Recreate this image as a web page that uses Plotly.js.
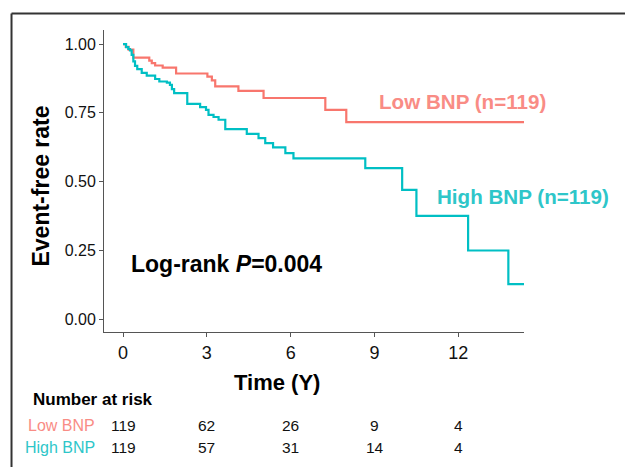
<!DOCTYPE html>
<html>
<head>
<meta charset="utf-8">
<script src="https://cdn.plot.ly/plotly-3.0.1.min.js"></script>
<style>html,body{margin:0;padding:0;background:#fff;}#chart{width:625px;height:467px;}</style>
</head>
<body>
<div id="chart"></div>
<script>
// Kaplan-Meier steps
const lowTime  = [0, 0.10, 0.20, 0.37, 0.94, 1.03, 1.15, 1.42, 1.90, 3.02, 3.18, 3.30, 4.13, 5.03, 7.24, 7.99, 14.35];
const lowSurv  = [1.00, 0.99, 0.98, 0.951, 0.940, 0.931, 0.922, 0.914, 0.893, 0.882, 0.868, 0.846, 0.830, 0.804, 0.761, 0.716, 0.716];
const highTime = [0, 0.11, 0.19, 0.25, 0.31, 0.37, 0.43, 0.51, 0.67, 0.85, 1.15, 1.30, 1.57, 1.68, 1.75, 1.83, 2.30, 2.76, 2.97, 3.06, 3.24, 3.42, 3.66, 4.43, 4.85, 5.09, 5.37, 5.81, 6.10, 8.67, 9.99, 10.50, 12.35, 13.79, 14.35];
const highSurv = [1.00, 0.989, 0.982, 0.977, 0.961, 0.937, 0.921, 0.909, 0.895, 0.885, 0.873, 0.864, 0.860, 0.852, 0.836, 0.822, 0.783, 0.771, 0.761, 0.743, 0.735, 0.725, 0.691, 0.674, 0.658, 0.640, 0.625, 0.604, 0.585, 0.549, 0.470, 0.376, 0.250, 0.128, 0.128];

const xTicks = [0, 3, 6, 9, 12];
const yTicks = [0, 0.25, 0.5, 0.75, 1.0];
const yTickLabels = ["0.00", "0.25", "0.50", "0.75", "1.00"];

const groups = ["Low BNP", "High BNP"];
const groupN = [119, 119];
const riskLow  = [119, 62, 26, 9, 4];
const riskHigh = [119, 57, 31, 14, 4];

const FONT = "Liberation Sans, Arial, Helvetica, sans-serif";
const lineCol = ["#F8766D", "#00BFC4"];
const textCol = ["#F98C85", "#2EC6C9"];

const traces = [
  {x: lowTime, y: lowSurv, mode: "lines", line: {shape: "hv", color: lineCol[0], width: 2.2}, hoverinfo: "skip"},
  {x: highTime, y: highSurv, mode: "lines", line: {shape: "hv", color: lineCol[1], width: 2.2}, hoverinfo: "skip"}
];

const annotations = [
  {text: "<b>" + groups[0] + " (n=" + groupN[0] + ")</b>", x: 12.15, y: 0.793, xref: "x", yref: "y", showarrow: false, xanchor: "center", yanchor: "middle", font: {family: FONT, size: 20.6, color: textCol[0]}},
  {text: "<b>" + groups[1] + " (n=" + groupN[1] + ")</b>", x: 14.33, y: 0.448, xref: "x", yref: "y", showarrow: false, xanchor: "center", yanchor: "middle", font: {family: FONT, size: 20.6, color: textCol[1]}},
  {text: "<b>Log-rank <i>P</i>=0.004</b>", x: 3.70, y: 0.201, xref: "x", yref: "y", showarrow: false, xanchor: "center", yanchor: "middle", font: {family: FONT, size: 23, color: "#000"}},
  {text: "<b>Event-free rate</b>", x: -0.1488, y: 0.4834, xref: "paper", yref: "paper", textangle: -90, showarrow: false, xanchor: "center", yanchor: "middle", font: {family: FONT, size: 23, color: "#000"}},
  {text: "<b>Time (Y)</b>", x: 0.412, y: -0.1656, xref: "paper", yref: "paper", showarrow: false, xanchor: "center", yanchor: "middle", font: {family: FONT, size: 22, color: "#000"}},
  {text: "<b>Number at risk</b>", x: -0.175, y: -0.225, xref: "paper", yref: "paper", showarrow: false, xanchor: "left", yanchor: "middle", font: {family: FONT, size: 17, color: "#000"}},
  {text: groups[0], x: -0.0167, y: -0.308, xref: "paper", yref: "paper", showarrow: false, xanchor: "right", yanchor: "middle", font: {family: FONT, size: 16, color: textCol[0]}},
  {text: groups[1], x: -0.0167, y: -0.381, xref: "paper", yref: "paper", showarrow: false, xanchor: "right", yanchor: "middle", font: {family: FONT, size: 16, color: textCol[1]}}
];
xTicks.forEach((t, i) => {
  annotations.push({text: String(riskLow[i]), x: t, y: -0.308, xref: "x", yref: "paper", showarrow: false, xanchor: "center", yanchor: "middle", font: {family: FONT, size: 15.5, color: "#111"}});
  annotations.push({text: String(riskHigh[i]), x: t, y: -0.381, xref: "x", yref: "paper", showarrow: false, xanchor: "center", yanchor: "middle", font: {family: FONT, size: 15.5, color: "#111"}});
});

const layout = {
  width: 625, height: 467,
  margin: {l: 104, r: 101, t: 30, b: 135, pad: 0},
  paper_bgcolor: "#fff", plot_bgcolor: "#fff",
  showlegend: false,
  font: {family: FONT},
  xaxis: {
    range: [-0.68, 14.35], tickvals: xTicks, ticktext: xTicks.map(String),
    showgrid: false, zeroline: false, showline: true, linecolor: "#555", linewidth: 1,
    ticks: "outside", ticklen: 4, tickcolor: "#555", tickwidth: 1,
    tickfont: {family: FONT, size: 18, color: "#111"}
  },
  yaxis: {
    range: [-0.046, 1.051], tickvals: yTicks, ticktext: yTickLabels,
    showgrid: false, zeroline: false, showline: true, linecolor: "#555", linewidth: 1,
    ticks: "outside", ticklen: 4, tickcolor: "#555", tickwidth: 1,
    tickfont: {family: FONT, size: 16, color: "#111"}
  },
  annotations: annotations,
  shapes: [
    {type: "line", xref: "paper", yref: "paper", x0: -0.2202, x1: -0.2202, y0: 1.0546, y1: -0.5, line: {color: "#333", width: 2}},
    {type: "line", xref: "paper", yref: "paper", x0: -0.2202, x1: 1.3, y0: 1.0546, y1: 1.0546, line: {color: "#333", width: 2}}
  ]
};

Plotly.newPlot("chart", traces, layout, {staticPlot: true, displayModeBar: false});
</script>
</body>
</html>
